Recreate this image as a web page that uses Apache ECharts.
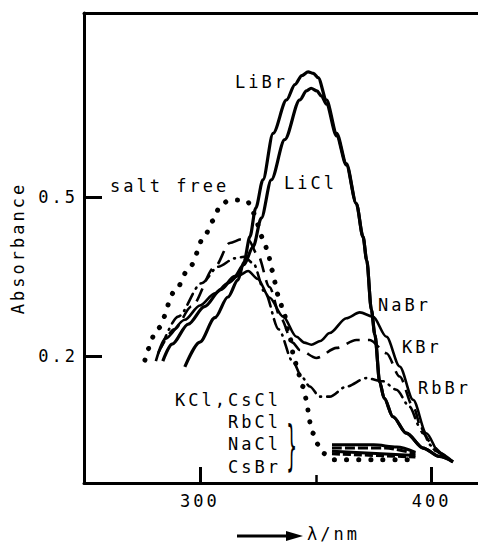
<!DOCTYPE html>
<html>
<head>
<meta charset="utf-8">
<script src="https://cdn.jsdelivr.net/npm/echarts@6/dist/echarts.min.js"></script>
<style>
html,body{margin:0;padding:0;background:#fff;}
#main{width:478px;height:545px;}
#main text{letter-spacing:3px;}
</style>
</head>
<body>
<div id="main"></div>
<script>
// absorbance spectra [lambda / nm, absorbance]
var saltFree = [[276.3,0.192],[282,0.252],[289.2,0.322],[295.7,0.368],[302.2,0.428],[305.7,0.455],[308.6,0.482],[312,0.492],[316,0.494],[320.5,0.492],[322.9,0.47],[327.3,0.422],[329.4,0.395],[331,0.362],[333.8,0.315],[336,0.285],[338.5,0.24],[340.9,0.192],[342.4,0.167],[344.5,0.142],[346,0.117],[346.9,0.092],[347.6,0.073],[348.8,0.054],[350.3,0.035],[353.2,0.016],[357.5,0.004],[375,0.004],[393.4,0.004]];
var liBr = [[293.5,0.179],[300,0.226],[306.5,0.272],[312.1,0.311],[316.4,0.343],[319,0.377],[321.6,0.425],[324.1,0.479],[327.2,0.532],[331.6,0.62],[337.4,0.683],[341,0.712],[344,0.729],[346.7,0.736],[349,0.733],[351,0.725],[354.6,0.683],[359,0.62],[363.2,0.563],[367.5,0.488],[370.4,0.425],[372,0.38],[374,0.287],[375.5,0.24],[377.6,0.15],[379.5,0.12],[383.3,0.085],[389.1,0.054],[396.3,0.026],[403.4,0.01],[409.2,0.0]];
var liCl = [[284,0.19],[288,0.222],[295,0.26],[302,0.293],[309,0.325],[315,0.35],[319,0.372],[323,0.406],[326.5,0.46],[330.8,0.532],[336.6,0.608],[343.1,0.683],[346,0.7],[348,0.705],[350.5,0.7],[352.5,0.69],[354.6,0.675],[359,0.615],[363.2,0.56],[367.5,0.487],[370.4,0.424],[372,0.38],[374,0.287],[375.5,0.24],[377.6,0.15],[379.5,0.12],[383.3,0.085],[389.1,0.054],[396.3,0.026],[403.4,0.01],[409.2,0.0]];
var naBr = [[281,0.19],[285,0.232],[293.5,0.268],[300,0.295],[306.5,0.318],[312,0.337],[317,0.352],[320.8,0.36],[325,0.345],[330,0.31],[335.9,0.274],[341.7,0.236],[345,0.225],[348.1,0.221],[352,0.228],[356,0.243],[363.2,0.271],[369,0.282],[374.7,0.274],[380.5,0.236],[386.2,0.18],[392,0.117],[397.7,0.054],[403.4,0.016],[409.2,0.0]];
var kBr = [[282,0.205],[289,0.25],[296.4,0.293],[306.5,0.368],[312.9,0.413],[318,0.42],[321,0.418],[325,0.39],[330,0.33],[335,0.27],[340,0.225],[343.1,0.211],[350.3,0.196],[359,0.215],[367.5,0.23],[373.3,0.23],[380.5,0.205],[386.2,0.161],[392,0.104],[396.2,0.054],[402,0.02],[409,0.0]];
var rbBr = [[283.5,0.218],[290.6,0.274],[300.7,0.337],[307.9,0.368],[315.1,0.384],[319,0.387],[323,0.375],[328,0.32],[334,0.25],[340,0.19],[344,0.16],[347.4,0.142],[351.7,0.123],[356,0.123],[363.2,0.142],[371.8,0.158],[379,0.152],[384.8,0.136],[390.5,0.104],[394.8,0.067],[400,0.03],[406,0.005]];
// chloride group (KCl, CsCl, RbCl, NaCl, CsBr) - flat near zero
var clA = [[357,0.032],[375,0.032],[385,0.028],[393,0.018]];
var clB = [[357,0.026],[380,0.026],[393,0.015]];
var clC = [[357,0.02],[393,0.012]];
var clD = [[357,0.015],[393,0.009]];

var yTicks = [0.2, 0.5];
var xTicks = [300, 400];
var xMinorTick = [350];

var FONT = '"DejaVu Sans Mono", monospace';

var chart = echarts.init(document.getElementById('main'), null, {renderer: 'svg'});

function line(name, data, w, type, cap) {
  return {
    name: name, type: 'line', data: data, showSymbol: false, silent: true,
    smooth: 0.3, smoothMonotone: 'x', xAxisIndex: 0, yAxisIndex: 0,
    lineStyle: {color: '#000', width: w, type: type || 'solid', cap: cap || 'butt'}
  };
}

function label(text, x, y, align) {
  return {
    type: 'text', x: x, y: y, silent: true,
    style: {text: text, font: '17px ' + FONT, fill: '#000', textAlign: align || 'left', textVerticalAlign: 'middle'}
  };
}

var option = {
  backgroundColor: '#fff',
  animation: false,
  grid: {left: 84, right: 0, top: 13, bottom: 62},
  xAxis: [{
    type: 'value', min: 250, max: 420, position: 'bottom',
    axisLine: {onZero: false, lineStyle: {color: '#000', width: 3}},
    axisTick: {show: true, inside: true, length: 16, customValues: xTicks, lineStyle: {color: '#000', width: 3}},
    axisLabel: {customValues: xTicks, margin: 9, color: '#000', fontSize: 17, fontFamily: FONT},
    splitLine: {show: false}
  }, {
    type: 'value', min: 250, max: 420, position: 'bottom', offset: 0,
    axisLine: {show: false, onZero: false},
    axisTick: {show: true, inside: true, length: 8, customValues: xMinorTick, lineStyle: {color: '#000', width: 2.5}},
    axisLabel: {show: false},
    splitLine: {show: false}
  }, {
    type: 'value', min: 250, max: 420, position: 'top',
    axisLine: {onZero: false, lineStyle: {color: '#000', width: 3}},
    axisTick: {show: false}, axisLabel: {show: false}, splitLine: {show: false}
  }],
  yAxis: {
    type: 'value', min: -0.04, max: 0.847,
    name: 'Absorbance', nameLocation: 'middle', nameRotate: 90, nameGap: 58,
    nameTextStyle: {color: '#000', fontSize: 17, fontFamily: FONT},
    axisLine: {onZero: false, lineStyle: {color: '#000', width: 3}},
    axisTick: {inside: true, length: 18, customValues: yTicks, lineStyle: {color: '#000', width: 3}},
    axisLabel: {customValues: yTicks, margin: 6, color: '#000', fontSize: 17, fontFamily: FONT,
      formatter: function (v) { return v.toFixed(1); }},
    splitLine: {show: false}
  },
  series: [
    line('salt free', saltFree, 5, [0.1, 12], 'round'),
    line('LiBr', liBr, 3.2),
    line('LiCl', liCl, 3.2),
    line('NaBr', naBr, 2.6),
    line('KBr', kBr, 2.6, [14, 8]),
    line('RbBr', rbBr, 2.6, [12, 6, 1, 6], 'round'),
    line('KCl,CsCl', clA, 3),
    line('RbCl', clB, 3, [10, 3]),
    line('NaCl', clC, 3),
    line('CsBr', clD, 3, [8, 3])
  ],
  graphic: [
    label('LiBr', 235, 82),
    label('LiCl', 284, 183),
    label('salt free', 110, 186),
    label('NaBr', 378, 305),
    label('KBr', 402, 347),
    label('RbBr', 418, 388),
    label('KCl,CsCl', 281, 400, 'right'),
    label('RbCl', 281, 422, 'right'),
    label('NaCl', 281, 444, 'right'),
    label('CsBr', 281, 467, 'right'),
    {type: 'text', x: 293, y: 446, scaleY: 3.1, silent: true,
      style: {text: '}', font: '17px ' + FONT, fill: '#000', textAlign: 'center', textVerticalAlign: 'middle'}},
    {type: 'line', silent: true, shape: {x1: 237, y1: 536, x2: 290, y2: 536}, style: {stroke: '#000', lineWidth: 3}},
    {type: 'polygon', silent: true, shape: {points: [[286, 531], [303, 536], [286, 541]]}, style: {fill: '#000'}},
    label('λ/nm', 307, 534)
  ]
};
chart.setOption(option);
</script>
</body>
</html>
